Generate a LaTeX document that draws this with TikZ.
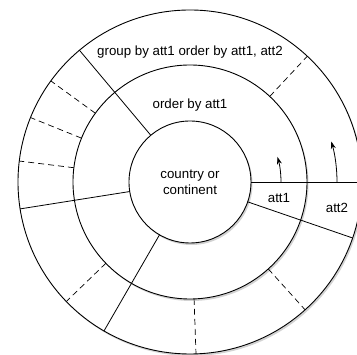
\documentclass[tikz,border=0pt]{standalone}
\usepackage{fontspec}
\setmainfont{Liberation Sans}
\usetikzlibrary{arrows.meta,shadows}
\tikzset{
  ring/.style  = {draw, circle, fill=white, outer sep=0pt, line width=0.9pt,
                  drop shadow={opacity=0.35, shadow xshift=1.5pt, shadow yshift=-2pt}},
  spoke/.style = {line width=0.8pt},
  split/.style = {line width=0.7pt, dash pattern=on 6pt off 4pt},
  turn/.style  = {-{Stealth[length=7.5pt,width=5pt]}, line width=0.8pt},
  lbl/.style   = {font=\fontsize{13.3}{16}\selectfont, align=center}
}

\begin{document}
\begin{tikzpicture}[x=1pt, y=1pt]
  \useasboundingbox (-190,-173) rectangle (167,182);
  \clip (-190,-173) rectangle (167,182);
  % the three rings
  \node[ring, minimum size=344pt] (outer) at (0,0) {};
  \node[ring, minimum size=234pt] (middle) at (0,0) {};
  \node[ring, lbl, minimum size=122pt] (core) at (0,0) {country or\\continent};
  % solid spokes
  \foreach \a in {0,341,130,189,240}
    \draw[spoke] (core.\a) -- (outer.\a);
  % dashed splits in the outer ring
  \foreach \a in {47,144,158,173,224,272.5,312}
    \draw[split] (middle.\a) -- (outer.\a);
  % turning arrows
  \coordinate (t1) at (0:91);
  \coordinate (t2) at (0:147);
  \draw[turn] (t1) arc[start angle=0, end angle=16, radius=91];
  \draw[turn] (t2) arc[start angle=0, end angle=16, radius=147];
  % labels
  \node[lbl] (grp) at (0,130) {group by att1 order by att1, att2};
  \node[lbl] (ord) at (0,77) {order by att1};
  \node[lbl] (a1) at (89,-16) {att1};
  \node[lbl] (a2) at (147,-26) {att2};
\end{tikzpicture}
\end{document}
